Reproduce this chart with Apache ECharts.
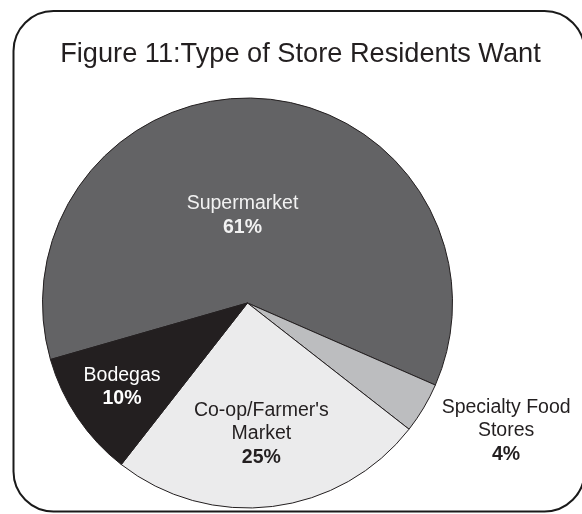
<!DOCTYPE html>
<html>
<head>
<meta charset="utf-8">
<script src="https://cdn.jsdelivr.net/npm/echarts@6/dist/echarts.min.js"></script>
<style>
  html, body { margin: 0; padding: 0; background: #ffffff; }
  #chart { width: 582px; height: 514px; }
</style>
</head>
<body>
<div id="chart"></div>
<script>
// Survey results: type of store residents want (percent of responses)
const categories = ['Supermarket', 'Specialty Food Stores', "Co-op/Farmer's Market", 'Bodegas'];
const values = [61, 4, 25, 10];
const labelNames = ['Supermarket', 'Specialty Food\nStores', "Co-op/Farmer's\nMarket", 'Bodegas'];

// Slice fills and label styling
const fills = ['#636365', '#bcbdbf', '#ebebec', '#231f20'];
const labelColors = ['#f2f2f2', '#231f20', '#231f20', '#ffffff'];
const labelOffsets = [[-12, 18], [168, 74], [1, 26], [-38, 25]];

const FONT = '"Liberation Sans", Arial, Helvetica, sans-serif';

const chart = echarts.init(document.getElementById('chart'), null, { renderer: 'canvas' });

const data = categories.map((name, i) => ({
  name: name,
  value: values[i],
  itemStyle: { color: fills[i] },
  label: {
    offset: labelOffsets[i],
    rich: {
      n: { color: labelColors[i], fontSize: 19.5, fontFamily: FONT, lineHeight: 23.5 },
      p: { color: labelColors[i], fontSize: 19.5, fontWeight: 'bold', fontFamily: FONT, lineHeight: 23.5 }
    }
  }
}));

chart.setOption({
  animation: false,
  backgroundColor: '#ffffff',
  graphic: [
    {
      type: 'rect',
      shape: { x: 13.5, y: 11, width: 571, height: 500.5, r: 40 },
      style: { fill: 'none', stroke: '#1a1a1a', lineWidth: 2 },
      z: 10
    },
    {
      type: 'text',
      x: 300.5,
      y: 55,
      style: {
        text: 'Figure 11:Type of Store Residents Want',
        fill: '#231f20',
        font: '27.2px ' + FONT,
        textAlign: 'center',
        textVerticalAlign: 'middle'
      },
      z: 10
    }
  ],
  series: [
    {
      type: 'pie',
      center: [247.5, 303],
      radius: 205,
      startAngle: 196,
      clockwise: true,
      avoidLabelOverlap: false,
      silent: true,
      itemStyle: { borderColor: '#231f20', borderWidth: 1 },
      labelLine: { show: false },
      label: {
        show: true,
        position: 'inside',
        formatter: p => '{n|' + labelNames[p.dataIndex] + '}\n{p|' + p.value + '%}'
      },
      emphasis: { disabled: true },
      data: data
    }
  ]
});
</script>
</body>
</html>
